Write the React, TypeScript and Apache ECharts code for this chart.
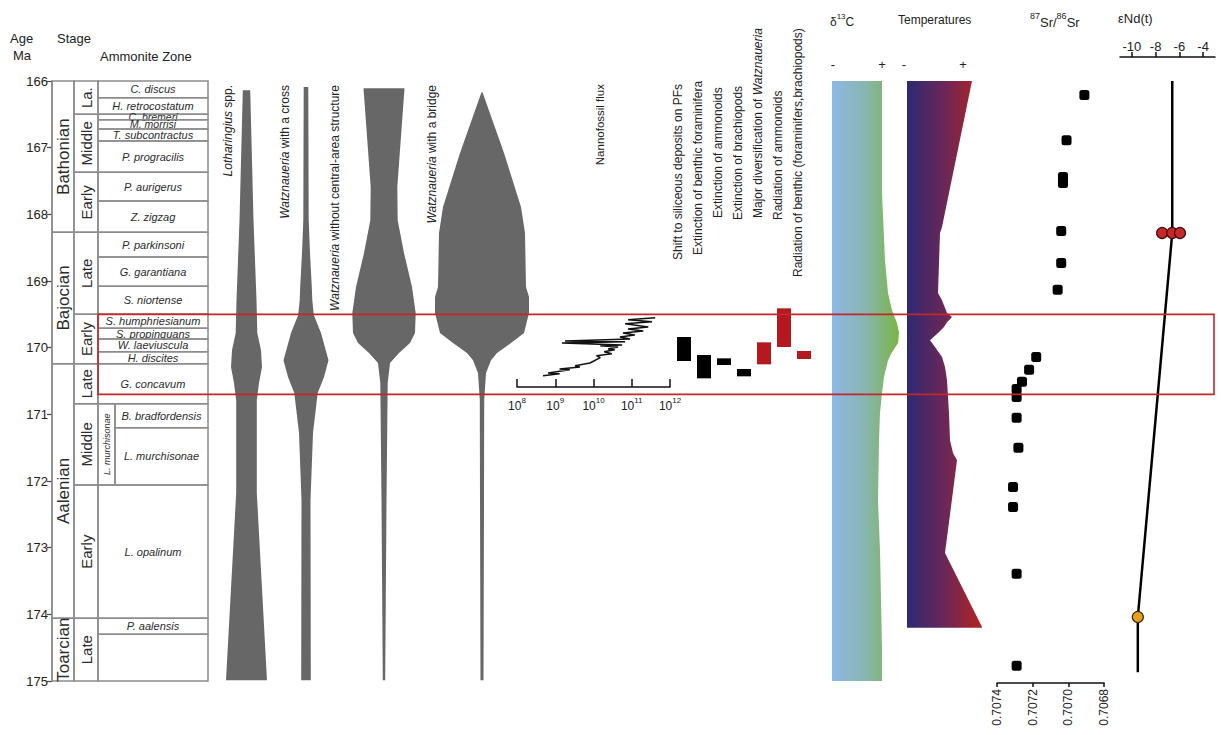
import React, { useEffect, useRef } from "react";
import * as echarts from "echarts";

// ---- shared age scale (Ma, top to bottom) ----
const AGE_TOP = 166;
const AGE_BOTTOM = 175;
const PLOT_TOP = 81;
const PLOT_HEIGHT = 600;
const PX_PER_MA = PLOT_HEIGHT / (AGE_BOTTOM - AGE_TOP);
const ageToY = (a: number) => PLOT_TOP + (a - AGE_TOP) * PX_PER_MA;

const FF = '"Liberation Sans", Arial, Helvetica, sans-serif';
const LINE_GRAY = "#8c8c8c";
const SPINDLE_GRAY = "#676767";
const RED = "#c4262c";

// ---- stratigraphy ----
const ageTicks = [166, 167, 168, 169, 170, 171, 172, 173, 174, 175];
const stageNames = ["Bathonian", "Bajocian", "Aalenian", "Toarcian"];
const stageBounds = [166.0, 168.27, 170.24, 174.06, 175.0];
const substageNames = ["La.", "Middle", "Early", "Late", "Early", "Late", "Middle", "Early", "Late"];
const substageBounds = [166.0, 166.5, 167.37, 168.27, 169.5, 170.24, 170.84, 172.06, 174.06, 175.0];
const zoneNames = [
  "C. discus", "H. retrocostatum", "C. bremeri", "M. morrisi", "T. subcontractus",
  "P. progracilis", "P. aurigerus", "Z. zigzag", "P. parkinsoni", "G. garantiana",
  "S. niortense", "S. humphriesianum", "S. propinquans", "W. laeviuscula", "H. discites",
  "G. concavum", "B. bradfordensis", "L. murchisonae", "L. opalinum", "P. aalensis", "",
];
const zoneBounds = [
  166.0, 166.25, 166.5, 166.58, 166.72, 166.9, 167.37, 167.8, 168.27, 168.64, 169.08,
  169.5, 169.71, 169.87, 170.06, 170.24, 170.84, 171.2, 172.06, 174.06, 174.3, 175.0,
];
const subzoneNames = ["L. murchisonae"];
const subzoneBounds = [170.84, 172.06];

// ---- calcareous nannofossil ranges (relative abundance width) ----
const lothAges = [166.14, 168.09, 169.29, 169.78, 170.04, 170.29, 170.53, 170.79, 172.18, 174.99];
const lothWidths = [7.4, 14, 20, 21.6, 29, 31, 25, 20.6, 20.6, 41];
const crossAges = [166.09, 168.09, 168.58, 169.09, 169.29, 169.51, 169.78, 170.19, 170.44, 170.68, 171.28, 172.29, 174.99];
const crossWidths = [4.6, 5.4, 8, 11.6, 12.6, 15.6, 30, 45, 36, 23.4, 14, 9, 9.6];
const plainAges = [166.11, 167.59, 168.09, 168.58, 169.09, 169.48, 169.78, 169.93, 170.08, 170.23, 170.53, 172.29, 174.99];
const plainWidths = [41, 26.6, 27.4, 40, 56, 63.4, 62, 52, 30, 12, 7.4, 5, 2.4];
const bridgeAges = [166.17, 167.08, 167.89, 168.28, 169.09, 169.24, 169.48, 169.78, 169.93, 170.08, 170.19, 170.38, 170.79, 172.29, 174.99];
const bridgeWidths = [1, 44, 78, 86, 88, 94, 94, 84, 58, 30, 18, 8, 4.4, 4, 3];

// ---- nannofossil flux ----
const fluxAges = [
  170.42, 170.39, 170.38, 170.33, 170.32, 170.29, 170.27, 170.23, 170.15, 170.12, 170.09,
  170.06, 170.03, 170.02, 169.99, 169.97, 169.96, 169.93, 169.91, 169.9, 169.87, 169.84,
  169.81, 169.78, 169.75, 169.72, 169.69, 169.64, 169.61, 169.58, 169.55,
];
const fluxValues = [
  4.8e8, 1.3e9, 6.5e8, 2.4e9, 1.3e9, 4.4e9, 3.3e9, 8.1e9, 1.5e10, 1.2e10, 3.0e10,
  1.9e10, 3.6e10, 2.4e10, 4.4e10, 1.5e10, 5.6e10, 1.5e9, 6.7e10, 1.8e9, 9.0e10, 4.9e10,
  1.2e11, 5.9e10, 2.0e11, 8.0e10, 2.7e11, 6.7e10, 3.4e11, 8.0e10, 4.1e11,
];

// ---- biotic events ----
const eventNames = [
  "Shift to siliceous deposits on PFs",
  "Extinction of benthic foraminifera",
  "Extinction of ammonoids",
  "Extinction of brachiopods",
  "Major diversification of {i|Watznaueria}",
  "Radiation of ammonoids",
  "Radiation of benthic (foraminifers,brachiopods)",
];
const eventTops = [169.84, 170.11, 170.16, 170.32, 169.92, 169.41, 170.05];
const eventBottoms = [170.2, 170.46, 170.26, 170.43, 170.25, 169.99, 170.17];
const eventKinds = ["loss", "loss", "loss", "loss", "gain", "gain", "gain"];

// ---- delta13C and temperature (relative) ----
const d13cAges = [166.0, 167.68, 168.69, 169.18, 169.44, 169.48, 169.63, 169.78, 169.93, 170.07, 170.19, 170.44, 170.68, 170.98, 171.39, 172.29, 173.04, 174.54, 175.0];
const d13cValues = [5.0, 5.0, 5.3, 5.6, 6.0, 6.1, 6.5, 6.7, 6.6, 6.0, 5.6, 5.2, 5.0, 4.8, 4.7, 4.6, 4.8, 5.0, 5.0];
const tempAges = [166.0, 168.19, 168.28, 169.18, 169.29, 169.48, 169.54, 169.62, 169.69, 169.78, 169.89, 169.99, 170.14, 170.29, 170.49, 170.98, 171.39, 171.58, 171.69, 173.08, 174.19, 174.2];
const tempValues = [6.5, 3.5, 3.3, 3.1, 3.5, 4.0, 4.5, 4.0, 3.7, 3.1, 2.3, 2.8, 3.5, 3.8, 4.0, 4.2, 4.3, 4.6, 5.0, 3.8, 7.5, 7.5];

// ---- 87Sr/86Sr ----
const srAges = [166.21, 166.89, 167.44, 167.53, 168.25, 168.73, 169.13, 170.14, 170.33, 170.51, 170.62, 170.74, 171.05, 171.5, 172.09, 172.39, 173.39, 174.77];
const srValues = [0.70691, 0.70701, 0.70703, 0.70703, 0.70704, 0.70704, 0.70706, 0.70718, 0.70722, 0.70726, 0.70729, 0.70729, 0.70729, 0.70728, 0.70731, 0.70731, 0.70729, 0.70729];
const srTicks = [0.7068, 0.707, 0.7072, 0.7074];

// ---- epsilon Nd(t) ----
const ndLineAges = [166.0, 168.28, 174.04, 174.87];
const ndLineValues = [-6.6, -6.6, -9.5, -9.5];
const ndBajocianValues = [-7.45, -6.6, -5.95];
const ndBajocianAge = 168.28;
const ndToarcianValue = -9.5;
const ndToarcianAge = 174.04;
const ndTicks = [-10, -8, -6, -4];

// ---- layout of the columns ----
const STRAT_LEFT = 52;
const STAGE_X = [0, 22];
const SUBSTAGE_X = [22, 46];
const ZONE_X = [46, 156];
const SUBZONE_X = [46, 63];
const SPINDLE_LEFT = 200;
const SPINDLE_CENTERS = [46.5, 106, 184, 282];
const FLUX_LEFT = 517;
const FLUX_WIDTH = 153;
const FLUX_AXIS_Y = 387;
const EVENT_LEFT = 674;
const D13C_LEFT = 832;
const TEMP_LEFT = 907;
const SR_LEFT = 997;
const SR_WIDTH = 107;
const ND_LEFT = 1120;
const ND_WIDTH = 95;
const ND_AXIS_Y = 57;
const BOX_RIGHT = 1214;

const hiddenY = (gridIndex: number, max = AGE_BOTTOM) => ({
  type: "value", gridIndex, min: AGE_TOP, max, inverse: true, show: false,
});
const hiddenX = (gridIndex: number, min: number, max: number) => ({
  type: "value", gridIndex, min, max, show: false,
});

function rectBetween(api: any, x0: number, x1: number, a0: number, a1: number) {
  const p0 = api.coord([x0, a0]);
  const p1 = api.coord([x1, a1]);
  return { x: p0[0], y: p0[1], width: p1[0] - p0[0], height: p1[1] - p0[1] };
}

function columnSeries(names: string[], bounds: number[], xr: number[], font: string, rotate: boolean, nested = false) {
  return {
    type: "custom",
    xAxisIndex: 0,
    yAxisIndex: 0,
    silent: true,
    data: names.map((_, i) => [0, bounds[i]]),
    renderItem: (params: any, api: any) => {
      const i = params.dataIndex;
      const top = bounds[i];
      const bot = bounds[i + 1];
      let x0 = xr[0];
      if (nested && top >= subzoneBounds[0] - 1e-6 && bot <= subzoneBounds[1] + 1e-6) {
        x0 = SUBZONE_X[1];
      }
      const r = rectBetween(api, x0, xr[1], top, bot);
      // very thin zones get a slightly smaller label
      const f = !rotate && r.height < 10 ? font.replace("11px", "10.5px") : font;
      return {
        type: "group",
        children: [
          { type: "rect", shape: r, style: { fill: "none", stroke: LINE_GRAY, lineWidth: 1.5 } },
          {
            type: "text",
            x: r.x + r.width / 2,
            y: r.y + r.height / 2,
            rotation: rotate ? Math.PI / 2 : 0,
            style: { text: names[i], font: f, fill: "#2b2b2b", align: "center", verticalAlign: "middle" },
          },
        ],
      };
    },
  };
}

function spindleSeries(k: number, ages: number[], widths: number[]) {
  return {
    type: "custom",
    xAxisIndex: 1,
    yAxisIndex: 1,
    silent: true,
    data: [[SPINDLE_CENTERS[k], ages[0]]],
    renderItem: (_p: any, api: any) => {
      const c = SPINDLE_CENTERS[k];
      const left = ages.map((a, i) => api.coord([c - widths[i] / 2, a]));
      const right = ages.map((a, i) => api.coord([c + widths[i] / 2, a])).reverse();
      return { type: "polygon", shape: { points: left.concat(right) }, style: { fill: SPINDLE_GRAY } };
    },
  };
}

function profileSeries(gridIndex: number, ages: number[], vals: number[], colors: string[]) {
  return {
    type: "custom",
    xAxisIndex: gridIndex,
    yAxisIndex: gridIndex,
    silent: true,
    data: [[0, ages[0]]],
    renderItem: (_p: any, api: any) => {
      const pts = ages.map((a, i) => api.coord([vals[i], a]));
      pts.push(api.coord([0, ages[ages.length - 1]]));
      pts.push(api.coord([0, ages[0]]));
      return {
        type: "polygon",
        shape: { points: pts },
        style: {
          fill: new echarts.graphic.LinearGradient(0, 0, 1, 0, [
            { offset: 0, color: colors[0] },
            { offset: 0.5, color: colors[1] },
            { offset: 1, color: colors[2] },
          ]),
        },
      };
    },
  };
}

// Rotated label reading upwards; {i|...} marks italic genus names
function vText(x: number, y: number, text: string, align: string, size = 12) {
  return {
    type: "text",
    x,
    y,
    rotation: Math.PI / 2,
    style: {
      text,
      font: `${size}px ${FF}`,
      fill: "#222",
      align,
      verticalAlign: "middle",
      rich: { i: { fontStyle: "italic", fontSize: size, fontFamily: FF, fill: "#222" } },
    },
  };
}

function hText(x: number, y: number, text: string, size = 13, align = "left") {
  return {
    type: "text",
    x,
    y,
    style: { text, font: `${size}px ${FF}`, fill: "#222", align, verticalAlign: "middle" },
  };
}

const supRich = (size: number) => ({
  n: { fontSize: size, fontFamily: FF, fill: "#222", lineHeight: size + 4, verticalAlign: "bottom" },
  s: { fontSize: size - 4, fontFamily: FF, fill: "#222", lineHeight: size + 4, verticalAlign: "top" },
});

export default function App() {
  const ref = useRef<HTMLDivElement>(null);

  useEffect(() => {
    if (!ref.current) return;
    const chart = echarts.init(ref.current, undefined, { renderer: "svg" });

    const grids = [
      { left: STRAT_LEFT, width: ZONE_X[1] },
      { left: SPINDLE_LEFT, width: 340 },
      { left: FLUX_LEFT, width: FLUX_WIDTH },
      { left: EVENT_LEFT, width: 140 },
      { left: D13C_LEFT, width: 70 },
      { left: TEMP_LEFT, width: 80 },
      { left: SR_LEFT, width: SR_WIDTH },
      { left: ND_LEFT, width: ND_WIDTH },
    ].map((g, i) => ({
      left: g.left,
      width: g.width,
      top: PLOT_TOP,
      height: i === 2 ? FLUX_AXIS_Y - PLOT_TOP : PLOT_HEIGHT,
      containLabel: false,
    }));

    const fluxAgeMax = AGE_TOP + (FLUX_AXIS_Y - PLOT_TOP) / PX_PER_MA;
    const eventLabelBottoms = [260, 255, 218, 220, 218, 220, 277];

    const graphic: any[] = [
      hText(10, 38, "Age", 13),
      hText(13, 55, "Ma", 13),
      hText(57, 38, "Stage", 13),
      hText(100, 56, "Ammonite Zone", 13),
      vText(228, 85, "{i|Lotharingius} spp.", "right"),
      vText(285, 85, "{i|Watznaueria} with a cross", "right"),
      vText(335, 85, "{i|Watznaueria} without central-area structure", "right"),
      vText(432, 85, "{i|Watznaueria} with a bridge", "right"),
      vText(600, 84, "Nannofossil flux", "right", 11.5),
      ...eventNames.map((n, i) => vText(EVENT_LEFT + 20 * i + 4, eventLabelBottoms[i], n, "left")),
      {
        type: "text", x: 830, y: 20,
        style: { text: "{n|δ}{s|13}{n|C}", verticalAlign: "middle", align: "left", rich: supRich(12) },
      },
      hText(898, 20, "Temperatures", 12),
      {
        type: "text", x: 1030, y: 20,
        style: { text: "{s|87}{n|Sr/}{s|86}{n|Sr}", verticalAlign: "middle", align: "left", rich: supRich(13) },
      },
      hText(1118, 18, "εNd(t)", 13),
      hText(833, 64, "-", 13, "center"),
      hText(882, 64, "+", 13, "center"),
      hText(904, 64, "-", 13, "center"),
      hText(963, 64, "+", 13, "center"),
      {
        type: "rect",
        z: 100,
        shape: {
          x: STRAT_LEFT + ZONE_X[0],
          y: ageToY(169.5),
          width: BOX_RIGHT - (STRAT_LEFT + ZONE_X[0]),
          height: ageToY(170.7) - ageToY(169.5),
        },
        style: { fill: "none", stroke: RED, lineWidth: 1.6 },
      },
    ];

    const option: any = {
      animation: false,
      backgroundColor: "#ffffff",
      textStyle: { fontFamily: FF },
      grid: grids,
      xAxis: [
        hiddenX(0, 0, ZONE_X[1]),
        hiddenX(1, 0, 340),
        {
          type: "log", gridIndex: 2, logBase: 10, min: 1e8, max: 1e12, position: "bottom",
          axisLine: { show: true, lineStyle: { color: "#111", width: 1.5 } },
          axisTick: { show: true, inside: true, length: 8, lineStyle: { color: "#111", width: 1.5 } },
          minorTick: { show: false },
          splitLine: { show: false },
          axisLabel: {
            margin: 9,
            formatter: (v: number) => `{b|10}{s|${Math.round(Math.log10(v))}}`,
            rich: {
              b: { fontSize: 12, fontFamily: FF, color: "#222", lineHeight: 16, verticalAlign: "bottom" },
              s: { fontSize: 8, fontFamily: FF, color: "#222", lineHeight: 16, verticalAlign: "top" },
            },
          },
        },
        hiddenX(3, 0, 7),
        hiddenX(4, 0, 7),
        hiddenX(5, 0, 8),
        {
          type: "value", gridIndex: 6, min: 0.7068, max: 0.7074, inverse: true, position: "bottom", offset: 2,
          axisLine: { show: true, lineStyle: { color: "#111", width: 1.5 } },
          axisTick: { show: true, length: 4, customValues: srTicks, lineStyle: { color: "#111", width: 1.5 } },
          splitLine: { show: false },
          axisLabel: {
            customValues: srTicks, rotate: 90, margin: 6, fontSize: 12, color: "#222",
            formatter: (v: number) => v.toFixed(4),
          },
        },
        {
          type: "value", gridIndex: 7, min: -11, max: -3, position: "top", offset: PLOT_TOP - ND_AXIS_Y,
          axisLine: { show: true, lineStyle: { color: "#111", width: 1.5 } },
          axisTick: { show: true, length: 5, customValues: ndTicks, lineStyle: { color: "#111", width: 1.5 } },
          splitLine: { show: false },
          axisLabel: { customValues: ndTicks, margin: 4, fontSize: 13, color: "#222" },
        },
      ],
      yAxis: [
        {
          type: "value", gridIndex: 0, min: AGE_TOP, max: AGE_BOTTOM, inverse: true, interval: 1,
          position: "left",
          axisLine: { show: true, lineStyle: { color: LINE_GRAY, width: 1.5 } },
          axisTick: { show: true, length: 5, customValues: ageTicks, lineStyle: { color: "#444", width: 1.2 } },
          splitLine: { show: false },
          axisLabel: { customValues: ageTicks, fontSize: 13, color: "#222", margin: 4 },
        },
        hiddenY(1),
        hiddenY(2, fluxAgeMax),
        hiddenY(3),
        hiddenY(4),
        hiddenY(5),
        hiddenY(6),
        hiddenY(7),
      ],
      series: [
        columnSeries(stageNames, stageBounds, STAGE_X, `17px ${FF}`, true),
        columnSeries(substageNames, substageBounds, SUBSTAGE_X, `15px ${FF}`, true),
        columnSeries(subzoneNames, subzoneBounds, SUBZONE_X, `italic 9px ${FF}`, true),
        columnSeries(zoneNames, zoneBounds, ZONE_X, `italic 11px ${FF}`, false, true),
        spindleSeries(0, lothAges, lothWidths),
        spindleSeries(1, crossAges, crossWidths),
        spindleSeries(2, plainAges, plainWidths),
        spindleSeries(3, bridgeAges, bridgeWidths),
        {
          type: "line",
          xAxisIndex: 2,
          yAxisIndex: 2,
          silent: true,
          showSymbol: false,
          symbol: "none",
          lineStyle: { color: "#111", width: 1.5 },
          data: fluxAges.map((a, i) => [fluxValues[i], a]),
        },
        {
          type: "custom",
          xAxisIndex: 3,
          yAxisIndex: 3,
          silent: true,
          data: eventNames.map((_, i) => [i, eventTops[i]]),
          renderItem: (params: any, api: any) => {
            const i = params.dataIndex;
            const r = rectBetween(api, i + 0.15, i + 0.85, eventTops[i], eventBottoms[i]);
            return { type: "rect", shape: r, style: { fill: eventKinds[i] === "gain" ? "#b3191f" : "#000" } };
          },
        },
        profileSeries(4, d13cAges, d13cValues, ["#8db8e4", "#88b6b0", "#7ab542"]),
        profileSeries(5, tempAges, tempValues, ["#2d2a72", "#6a2758", "#b6221f"]),
        {
          type: "scatter",
          xAxisIndex: 6,
          yAxisIndex: 6,
          silent: true,
          symbol: "roundRect",
          symbolSize: 10,
          itemStyle: { color: "#000", opacity: 1 },
          data: srAges.map((a, i) => [srValues[i], a]),
        },
        {
          type: "line",
          xAxisIndex: 7,
          yAxisIndex: 7,
          silent: true,
          symbol: "none",
          lineStyle: { color: "#000", width: 2.5 },
          data: ndLineAges.map((a, i) => [ndLineValues[i], a]),
          z: 3,
        },
        {
          type: "scatter",
          xAxisIndex: 7,
          yAxisIndex: 7,
          silent: true,
          symbolSize: 11,
          itemStyle: { color: "#c8262b", borderColor: "#3a0c0c", borderWidth: 1.2, opacity: 1 },
          data: ndBajocianValues.map((v) => [v, ndBajocianAge]),
          z: 4,
        },
        {
          type: "scatter",
          xAxisIndex: 7,
          yAxisIndex: 7,
          silent: true,
          symbolSize: 11,
          itemStyle: { color: "#e6a11c", borderColor: "#3a2a0a", borderWidth: 1.2, opacity: 1 },
          data: [[ndToarcianValue, ndToarcianAge]],
          z: 4,
        },
      ],
      graphic,
    };

    chart.setOption(option);
    return () => chart.dispose();
  }, []);

  return (
    <div
      ref={ref}
      style={{ position: "absolute", left: 0, top: 0, width: 1221, height: 735, background: "#fff" }}
    />
  );
}
